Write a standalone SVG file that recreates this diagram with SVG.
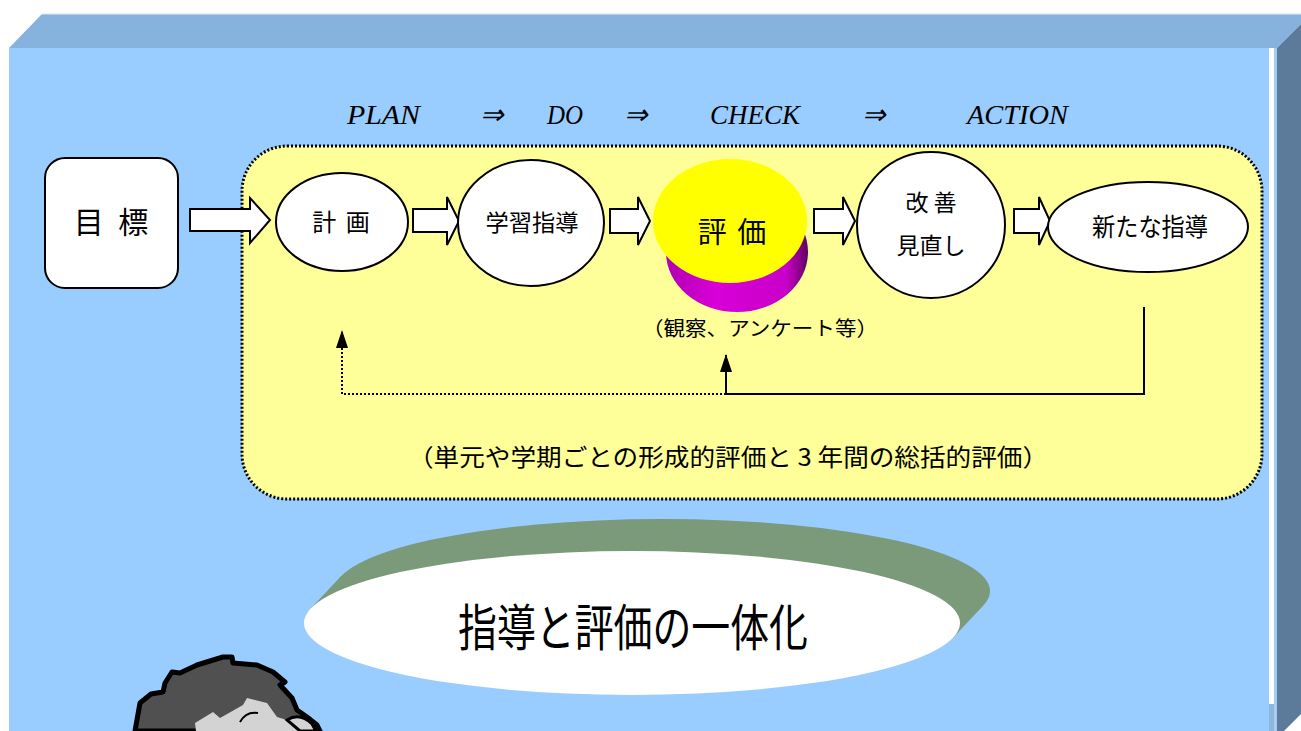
<svg xmlns="http://www.w3.org/2000/svg" width="1301" height="731" viewBox="0 0 1301 731">
  <style>
    .jp { font-family: "Noto Sans CJK JP", "Noto Sans", sans-serif; fill: #000; }
    .lat { font-family: "Liberation Serif", serif; font-style: italic; fill: #000; }
    .node { fill: #fff; stroke: #000; stroke-width: 2; }
    .blk { fill: #fff; stroke: #000; stroke-width: 2; stroke-linejoin: miter; }
    .wire { fill: none; stroke: #000; stroke-width: 2; }
  </style>
  <defs>
    <marker id="tip" viewBox="0 0 18 12" refX="17" refY="6" markerWidth="18" markerHeight="12" markerUnits="userSpaceOnUse" orient="auto">
      <path d="M0,0 L18,6 L0,12 Z" fill="#000"/>
    </marker>
    <linearGradient id="side" x1="0" y1="0" x2="1" y2="0">
      <stop offset="0" stop-color="#B000B0"/>
      <stop offset="0.35" stop-color="#D800D8"/>
      <stop offset="0.85" stop-color="#C800C8"/>
      <stop offset="1" stop-color="#600060"/>
    </linearGradient>
  </defs>

  <!-- board background with bevelled edges -->
  <rect x="0" y="0" width="1301" height="731" fill="#fff"/>
  <polygon points="9,48 42,14 1311,14 1277,48" fill="#86B2DE"/>
  <line x1="42" y1="14" x2="1301" y2="14" stroke="#D8E4F0" stroke-width="1"/>
  <polygon points="1277,48 1301,24 1301,714 1284,731 1277,731" fill="#5C7B9A"/>
  <rect x="9" y="48" width="1268" height="683" fill="#99CCFF"/>
  <rect x="1269" y="48" width="5" height="656" fill="#fff"/>
  <rect x="1269" y="704" width="5" height="27" fill="#8DB6DF"/>
  <line x1="1275.5" y1="48" x2="1275.5" y2="731" stroke="#B8CCE0" stroke-width="1"/>

  <!-- PDCA heading -->
  <g id="heading">
    <text class="lat" x="347" y="124" font-size="28" textLength="73" lengthAdjust="spacingAndGlyphs">PLAN</text>
    <text class="lat" x="480" y="124" font-size="28">⇒</text>
    <text class="lat" x="547" y="124" font-size="28" textLength="36" lengthAdjust="spacingAndGlyphs">DO</text>
    <text class="lat" x="624" y="124" font-size="28">⇒</text>
    <text class="lat" x="710" y="124" font-size="28" textLength="90" lengthAdjust="spacingAndGlyphs">CHECK</text>
    <text class="lat" x="862" y="124" font-size="28">⇒</text>
    <text class="lat" x="967" y="124" font-size="28" textLength="101" lengthAdjust="spacingAndGlyphs">ACTION</text>
  </g>

  <!-- cycle area -->
  <g id="cycle-area">
    <rect x="242" y="146" width="1020" height="353" rx="45" ry="45" fill="#FFFF99" stroke="#000" stroke-width="3" stroke-dasharray="2 2"/>
    <text class="jp" x="728" y="466" font-size="24" text-anchor="middle" textLength="640" lengthAdjust="spacingAndGlyphs">（単元や学期ごとの形成的評価と 3 年間の総括的評価）</text>
  </g>

  <!-- goal -->
  <g id="goal">
    <rect class="node" x="45" y="158" width="133" height="130" rx="20" ry="20"/>
    <text class="jp" x="113" y="233" font-size="30" text-anchor="middle" letter-spacing="4">目 標</text>
  </g>

  <!-- block arrows between stages -->
  <g id="connectors">
    <path class="blk" d="M190,209 H250 V198 L270,220 L250,243 V231 H190 Z"/>
    <path class="blk" d="M413,209 H447 V197 L459,221 L447,245 V232 H413 Z"/>
    <path class="blk" d="M610,209 H638 V197 L650,221 L638,245 V233 H610 Z"/>
    <path class="blk" d="M814,209 H843 V197 L855,221 L843,245 V233 H814 Z"/>
    <path class="blk" d="M1014,209 H1039 V197 L1050,221 L1039,245 V233 H1014 Z"/>
    <!-- feedback loops -->
    <polyline class="wire" points="1144,307 1144,394 726,394 726,355" marker-end="url(#tip)"/>
    <polyline class="wire" points="726,394 342,394 342,331" stroke-dasharray="2 2" marker-end="url(#tip)"/>
  </g>

  <g id="plan">
    <ellipse class="node" cx="342" cy="222" rx="66" ry="49"/>
    <text class="jp" x="342" y="231" font-size="24" text-anchor="middle" letter-spacing="2">計 画</text>
  </g>

  <g id="teach">
    <ellipse class="node" cx="531" cy="223" rx="73" ry="63"/>
    <text class="jp" x="532" y="231" font-size="23" text-anchor="middle" textLength="93" lengthAdjust="spacingAndGlyphs">学習指導</text>
  </g>

  <g id="evaluate">
    <ellipse cx="737" cy="252" rx="71" ry="60" fill="url(#side)"/>
    <ellipse cx="730" cy="221" rx="77" ry="62" fill="#FFFF00"/>
    <text class="jp" x="733" y="243" font-size="29" text-anchor="middle" letter-spacing="2">評 価</text>
    <text class="jp" x="760" y="336" font-size="20" text-anchor="middle" textLength="236" lengthAdjust="spacingAndGlyphs">（観察、アンケート等）</text>
  </g>

  <g id="improve">
    <ellipse class="node" cx="931" cy="225" rx="74" ry="73"/>
    <text class="jp" x="931" y="211" font-size="23" text-anchor="middle">改 善</text>
    <text class="jp" x="931" y="254" font-size="23" text-anchor="middle">見直し</text>
  </g>

  <g id="new-teach">
    <ellipse class="node" cx="1148" cy="227" rx="100" ry="45"/>
    <text class="jp" x="1150" y="236" font-size="25" text-anchor="middle" textLength="116" lengthAdjust="spacingAndGlyphs">新たな指導</text>
  </g>

  <!-- headline disc -->
  <g id="headline">
    <ellipse cx="662" cy="591" rx="328" ry="72" fill="#7A9A7A"/>
    <polygon points="310.7,608.5 340.7,576.5 983.3,605.5 953.3,637.5" fill="#7A9A7A"/>
    <ellipse cx="632" cy="623" rx="328" ry="72" fill="#fff"/>
    <text class="jp" x="633" y="646" font-size="50" text-anchor="middle" textLength="350" lengthAdjust="spacingAndGlyphs">指導と評価の一体化</text>
  </g>

  <!-- cartoon head peeking in at the bottom -->
  <g id="head">
    <path d="M135,731 L140,703 L151,694 L163,692 L165,683 L172,672 L180,673 L197,665 L223,657 L232,657 L233,663 L257,665 L273,672 L285,682 L280,685 L292,698 L297,710 L307,717 L317,725 L320,731 Z" fill="#505050" stroke="#000" stroke-width="5" stroke-linejoin="round"/>
    <path d="M196,731 L195,723 L213,712 L220,718 L243,705 L247,698 L267,703 L277,717 L287,720 L300,718 L310,731 Z" fill="#D3D3D3"/>
    <path d="M287,720 Q300,712 312,724 L316,731 L300,731 Z" fill="#D3D3D3" stroke="#000" stroke-width="3"/>
    <path d="M240,722 Q246,711 258,713" fill="none" stroke="#000" stroke-width="2"/>
  </g>
</svg>
